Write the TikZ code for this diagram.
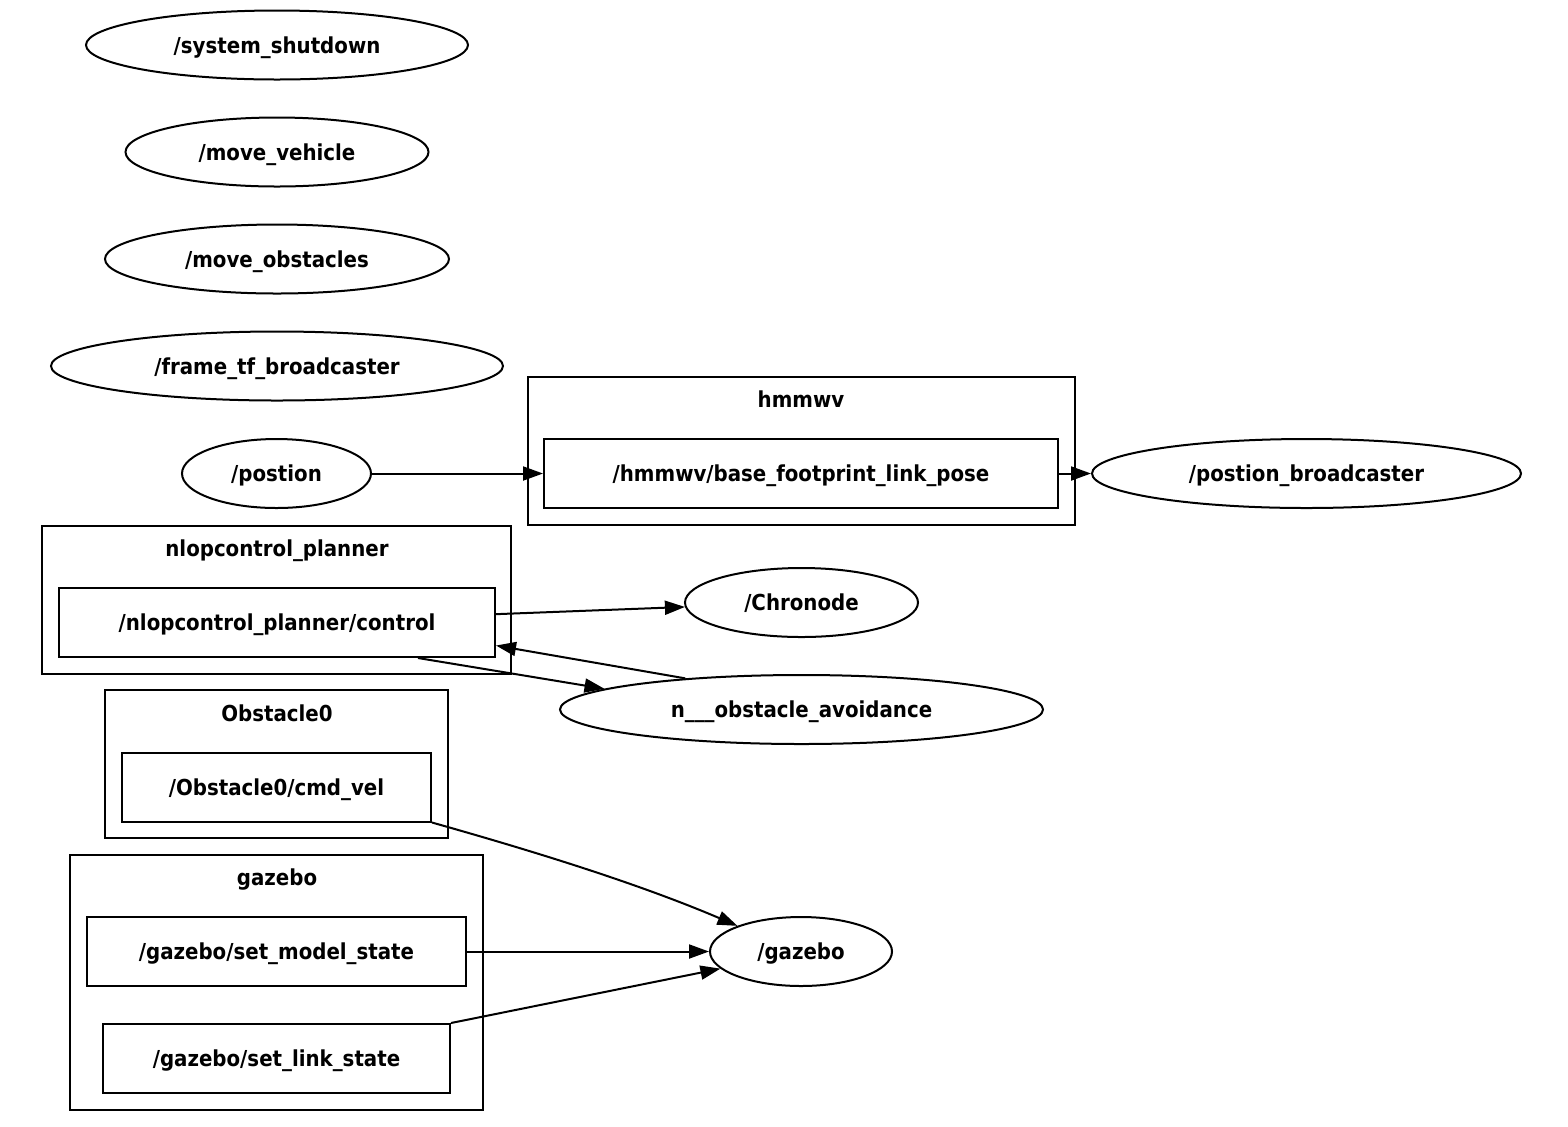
\documentclass[tikz,border=0pt]{standalone}
\usepackage{fontspec}
\setmainfont{DejaVu Sans Condensed}
\usetikzlibrary{shapes.geometric,arrows.meta}
\begin{document}
\begin{tikzpicture}[x=0.5pt,y=-0.5pt,
  every node/.style={font=\bfseries\fontsize{11pt}{13pt}\selectfont, inner sep=0pt, text height=9pt, text depth=1pt},
  topic/.style={draw, line width=1pt, ellipse, minimum height=34.5pt},
  tbox/.style={draw, line width=1pt, rectangle, minimum height=34.5pt},
  grp/.style={draw, line width=1pt, rectangle},
  lbl/.style={},
  conn/.style={line width=1pt, -{Triangle[length=10pt,width=7pt]}}]
\useasboundingbox (0,0) rectangle (1568,1126);
% clusters
\node[grp, minimum width=273.5pt, minimum height=74pt] (cHm) at (801.5,451) {};
\node[lbl] (lHm) at (801,399) {hmmwv};
\node[grp, minimum width=234.5pt, minimum height=74pt] (cNl) at (276.5,600) {};
\node[lbl] (lNl) at (277,548) {nlopcontrol\_planner};
\node[grp, minimum width=171.5pt, minimum height=74pt] (cOb) at (276.5,764) {};
\node[lbl] (lOb) at (277,713) {Obstacle0};
\node[grp, minimum width=206.5pt, minimum height=127.5pt] (cGz) at (276.5,982.5) {};
\node[lbl] (lGz) at (277,877) {gazebo};
% topic ellipses
\node[topic, minimum width=191pt] (shut) at (277,45) {/system\_shutdown};
\node[topic, minimum width=151.5pt] (mveh) at (277,152) {/move\_vehicle};
\node[topic, minimum width=172pt] (mobs) at (277,259) {/move\_obstacles};
\node[topic, minimum width=226pt] (ftf) at (277,366) {/frame\_tf\_broadcaster};
\node[topic, minimum width=94.5pt] (pos) at (276.5,473.5) {/postion};
\node[topic, minimum width=214.5pt] (posb) at (1306.5,473.5) {/postion\_broadcaster};
\node[topic, minimum width=116.5pt] (chro) at (801.5,602.5) {/Chronode};
\node[topic, minimum width=241.5pt] (oa) at (801.5,709.5) {n\_\_\_obstacle\_avoidance};
\node[topic, minimum width=91pt] (gz) at (801,951.5) {/gazebo};
% inner boxes
\node[tbox, minimum width=257pt] (hb) at (801,473.5) {/hmmwv/base\_footprint\_link\_pose};
\node[tbox, minimum width=218pt] (ctl) at (277,622.5) {/nlopcontrol\_planner/control};
\node[tbox, minimum width=154.5pt] (cmd) at (276.5,787) {/Obstacle0/cmd\_vel};
\node[tbox, minimum width=189.5pt] (sms) at (276.5,951.5) {/gazebo/set\_model\_state};
\node[tbox, minimum width=173.5pt] (sls) at (276.5,1058.5) {/gazebo/set\_link\_state};
% connectors
\draw[conn] (pos) -- (hb);
\draw[conn] (hb) -- (posb);
\draw[conn] (ctl) -- (chro);
\draw[conn] (oa.165.7) -- (ctl.-6.5);
\draw[conn] ([xshift=70.5pt]ctl.south) -- (oa.174.5);
\draw[conn] (cmd.south east) .. controls (515,846) and (630,880) .. (gz.158.4);
\draw[conn] (sms) -- (gz);
\draw[conn] (sls.north east) -- (gz.-168.1);
\end{tikzpicture}
\end{document}
